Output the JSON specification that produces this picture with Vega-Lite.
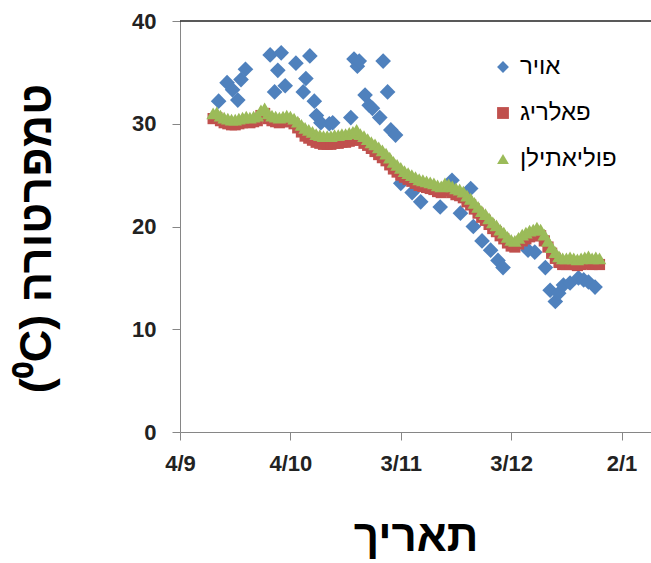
{
  "$schema": "https://vega.github.io/schema/vega-lite/v6.json",
  "width": 471,
  "height": 411,
  "autosize": {"type": "none"},
  "padding": {"left": 180, "top": 21, "right": 0, "bottom": 131},
  "background": "white",
  "config": {"view": {"stroke": null}, "font": "Liberation Sans"},
  "layer": [
    {
      "data": {"values": [
        {"d": "2011-09-14T12:00", "s": "אויר", "t": 32.2},
        {"d": "2011-09-16T19:00", "s": "אויר", "t": 34.0},
        {"d": "2011-09-18T07:00", "s": "אויר", "t": 33.3},
        {"d": "2011-09-19T17:00", "s": "אויר", "t": 32.3},
        {"d": "2011-09-20T14:00", "s": "אויר", "t": 34.3},
        {"d": "2011-09-21T19:00", "s": "אויר", "t": 35.3},
        {"d": "2011-09-28T12:00", "s": "אויר", "t": 36.7},
        {"d": "2011-09-29T17:00", "s": "אויר", "t": 33.1},
        {"d": "2011-09-30T14:00", "s": "אויר", "t": 35.2},
        {"d": "2011-10-01T12:00", "s": "אויר", "t": 36.9},
        {"d": "2011-10-02T14:00", "s": "אויר", "t": 33.7},
        {"d": "2011-10-05T12:00", "s": "אויר", "t": 35.9},
        {"d": "2011-10-07T12:00", "s": "אויר", "t": 33.1},
        {"d": "2011-10-08T05:00", "s": "אויר", "t": 34.4},
        {"d": "2011-10-09T07:00", "s": "אויר", "t": 36.6},
        {"d": "2011-10-10T12:00", "s": "אויר", "t": 32.2},
        {"d": "2011-10-11T02:00", "s": "אויר", "t": 30.8},
        {"d": "2011-10-12T07:00", "s": "אויר", "t": 30.1},
        {"d": "2011-10-14T14:00", "s": "אויר", "t": 30.0},
        {"d": "2011-10-15T12:00", "s": "אויר", "t": 30.1},
        {"d": "2011-10-20T10:00", "s": "אויר", "t": 30.6},
        {"d": "2011-10-21T07:00", "s": "אויר", "t": 36.3},
        {"d": "2011-10-22T05:00", "s": "אויר", "t": 35.6},
        {"d": "2011-10-22T17:00", "s": "אויר", "t": 36.1},
        {"d": "2011-10-24T07:00", "s": "אויר", "t": 32.8},
        {"d": "2011-10-25T10:00", "s": "אויר", "t": 31.8},
        {"d": "2011-10-26T07:00", "s": "אויר", "t": 31.5},
        {"d": "2011-10-28T07:00", "s": "אויר", "t": 30.6},
        {"d": "2011-10-29T05:00", "s": "אויר", "t": 36.1},
        {"d": "2011-10-30T10:00", "s": "אויר", "t": 33.1},
        {"d": "2011-10-31T07:00", "s": "אויר", "t": 29.4},
        {"d": "2011-11-01T14:00", "s": "אויר", "t": 28.9},
        {"d": "2011-11-03T00:00", "s": "אויר", "t": 24.2},
        {"d": "2011-11-06T02:00", "s": "אויר", "t": 23.3},
        {"d": "2011-11-08T10:00", "s": "אויר", "t": 22.4},
        {"d": "2011-11-13T17:00", "s": "אויר", "t": 21.9},
        {"d": "2011-11-16T22:00", "s": "אויר", "t": 24.5},
        {"d": "2011-11-19T05:00", "s": "אויר", "t": 21.3},
        {"d": "2011-11-22T00:00", "s": "אויר", "t": 23.7},
        {"d": "2011-11-22T17:00", "s": "אויר", "t": 20.0},
        {"d": "2011-11-25T02:00", "s": "אויר", "t": 18.6},
        {"d": "2011-11-27T10:00", "s": "אויר", "t": 17.7},
        {"d": "2011-11-29T10:00", "s": "אויר", "t": 16.7},
        {"d": "2011-11-30T19:00", "s": "אויר", "t": 16.0},
        {"d": "2011-12-07T14:00", "s": "אויר", "t": 17.7},
        {"d": "2011-12-09T10:00", "s": "אויר", "t": 17.5},
        {"d": "2011-12-12T07:00", "s": "אויר", "t": 16.0},
        {"d": "2011-12-13T14:00", "s": "אויר", "t": 13.8},
        {"d": "2011-12-15T00:00", "s": "אויר", "t": 12.7},
        {"d": "2011-12-15T22:00", "s": "אויר", "t": 13.5},
        {"d": "2011-12-17T05:00", "s": "אויר", "t": 14.3},
        {"d": "2011-12-19T00:00", "s": "אויר", "t": 14.5},
        {"d": "2011-12-21T07:00", "s": "אויר", "t": 15.0},
        {"d": "2011-12-22T17:00", "s": "אויר", "t": 14.8},
        {"d": "2011-12-24T00:00", "s": "אויר", "t": 14.6},
        {"d": "2011-12-25T19:00", "s": "אויר", "t": 14.1},

        {"d": "2011-09-13T00:00", "s": "פאלריג", "t": 30.5},
        {"d": "2011-09-14T00:00", "s": "פאלריג", "t": 30.6},
        {"d": "2011-09-15T00:00", "s": "פאלריג", "t": 30.3},
        {"d": "2011-09-16T00:00", "s": "פאלריג", "t": 30.1},
        {"d": "2011-09-17T00:00", "s": "פאלריג", "t": 30.0},
        {"d": "2011-09-18T00:00", "s": "פאלריג", "t": 29.9},
        {"d": "2011-09-19T00:00", "s": "פאלריג", "t": 29.9},
        {"d": "2011-09-20T00:00", "s": "פאלריג", "t": 30.0},
        {"d": "2011-09-21T00:00", "s": "פאלריג", "t": 30.1},
        {"d": "2011-09-22T00:00", "s": "פאלריג", "t": 30.2},
        {"d": "2011-09-23T00:00", "s": "פאלריג", "t": 30.1},
        {"d": "2011-09-24T00:00", "s": "פאלריג", "t": 30.2},
        {"d": "2011-09-25T00:00", "s": "פאלריג", "t": 30.3},
        {"d": "2011-09-26T00:00", "s": "פאלריג", "t": 30.8},
        {"d": "2011-09-27T00:00", "s": "פאלריג", "t": 31.0},
        {"d": "2011-09-28T00:00", "s": "פאלריג", "t": 30.5},
        {"d": "2011-09-29T00:00", "s": "פאלריג", "t": 30.3},
        {"d": "2011-09-30T00:00", "s": "פאלריג", "t": 30.2},
        {"d": "2011-10-01T00:00", "s": "פאלריג", "t": 30.1},
        {"d": "2011-10-02T00:00", "s": "פאלריג", "t": 30.2},
        {"d": "2011-10-03T00:00", "s": "פאלריג", "t": 30.3},
        {"d": "2011-10-04T00:00", "s": "פאלריג", "t": 30.2},
        {"d": "2011-10-05T00:00", "s": "פאלריג", "t": 30.0},
        {"d": "2011-10-06T00:00", "s": "פאלריג", "t": 29.6},
        {"d": "2011-10-07T00:00", "s": "פאלריג", "t": 29.2},
        {"d": "2011-10-08T00:00", "s": "פאלריג", "t": 28.8},
        {"d": "2011-10-09T00:00", "s": "פאלריג", "t": 28.6},
        {"d": "2011-10-10T00:00", "s": "פאלריג", "t": 28.4},
        {"d": "2011-10-11T00:00", "s": "פאלריג", "t": 28.2},
        {"d": "2011-10-12T00:00", "s": "פאלריג", "t": 28.1},
        {"d": "2011-10-13T00:00", "s": "פאלריג", "t": 28.0},
        {"d": "2011-10-14T00:00", "s": "פאלריג", "t": 28.0},
        {"d": "2011-10-15T00:00", "s": "פאלריג", "t": 28.0},
        {"d": "2011-10-16T00:00", "s": "פאלריג", "t": 28.1},
        {"d": "2011-10-17T00:00", "s": "פאלריג", "t": 28.1},
        {"d": "2011-10-18T00:00", "s": "פאלריג", "t": 28.2},
        {"d": "2011-10-19T00:00", "s": "פאלריג", "t": 28.2},
        {"d": "2011-10-20T00:00", "s": "פאלריג", "t": 28.3},
        {"d": "2011-10-21T00:00", "s": "פאלריג", "t": 28.4},
        {"d": "2011-10-22T00:00", "s": "פאלריג", "t": 28.6},
        {"d": "2011-10-23T00:00", "s": "פאלריג", "t": 28.4},
        {"d": "2011-10-24T00:00", "s": "פאלריג", "t": 28.1},
        {"d": "2011-10-25T00:00", "s": "פאלריג", "t": 27.9},
        {"d": "2011-10-26T00:00", "s": "פאלריג", "t": 27.6},
        {"d": "2011-10-27T00:00", "s": "פאלריג", "t": 27.3},
        {"d": "2011-10-28T00:00", "s": "פאלריג", "t": 27.0},
        {"d": "2011-10-29T00:00", "s": "פאלריג", "t": 26.7},
        {"d": "2011-10-30T00:00", "s": "פאלריג", "t": 26.4},
        {"d": "2011-10-31T00:00", "s": "פאלריג", "t": 26.0},
        {"d": "2011-11-01T00:00", "s": "פאלריג", "t": 25.6},
        {"d": "2011-11-02T00:00", "s": "פאלריג", "t": 25.3},
        {"d": "2011-11-03T00:00", "s": "פאלריג", "t": 25.0},
        {"d": "2011-11-04T00:00", "s": "פאלריג", "t": 24.8},
        {"d": "2011-11-05T00:00", "s": "פאלריג", "t": 24.6},
        {"d": "2011-11-06T00:00", "s": "פאלריג", "t": 24.4},
        {"d": "2011-11-07T00:00", "s": "פאלריג", "t": 24.2},
        {"d": "2011-11-08T00:00", "s": "פאלריג", "t": 24.0},
        {"d": "2011-11-09T00:00", "s": "פאלריג", "t": 23.9},
        {"d": "2011-11-10T00:00", "s": "פאלריג", "t": 23.8},
        {"d": "2011-11-11T00:00", "s": "פאלריג", "t": 23.7},
        {"d": "2011-11-12T00:00", "s": "פאלריג", "t": 23.6},
        {"d": "2011-11-13T00:00", "s": "פאלריג", "t": 23.4},
        {"d": "2011-11-14T00:00", "s": "פאלריג", "t": 23.3},
        {"d": "2011-11-15T00:00", "s": "פאלריג", "t": 23.6},
        {"d": "2011-11-16T00:00", "s": "פאלריג", "t": 23.5},
        {"d": "2011-11-17T00:00", "s": "פאלריג", "t": 23.3},
        {"d": "2011-11-18T00:00", "s": "פאלריג", "t": 23.1},
        {"d": "2011-11-19T00:00", "s": "פאלריג", "t": 23.0},
        {"d": "2011-11-20T00:00", "s": "פאלריג", "t": 22.8},
        {"d": "2011-11-21T00:00", "s": "פאלריג", "t": 22.4},
        {"d": "2011-11-22T00:00", "s": "פאלריג", "t": 22.1},
        {"d": "2011-11-23T00:00", "s": "פאלריג", "t": 21.7},
        {"d": "2011-11-24T00:00", "s": "פאלריג", "t": 21.3},
        {"d": "2011-11-25T00:00", "s": "פאלריג", "t": 20.9},
        {"d": "2011-11-26T00:00", "s": "פאלריג", "t": 20.6},
        {"d": "2011-11-27T00:00", "s": "פאלריג", "t": 20.2},
        {"d": "2011-11-28T00:00", "s": "פאלריג", "t": 19.8},
        {"d": "2011-11-29T00:00", "s": "פאלריג", "t": 19.5},
        {"d": "2011-11-30T00:00", "s": "פאלריג", "t": 19.1},
        {"d": "2011-12-01T00:00", "s": "פאלריג", "t": 18.8},
        {"d": "2011-12-02T00:00", "s": "פאלריג", "t": 18.4},
        {"d": "2011-12-03T00:00", "s": "פאלריג", "t": 18.1},
        {"d": "2011-12-04T00:00", "s": "פאלריג", "t": 18.0},
        {"d": "2011-12-05T00:00", "s": "פאלריג", "t": 18.3},
        {"d": "2011-12-06T00:00", "s": "פאלריג", "t": 18.6},
        {"d": "2011-12-07T00:00", "s": "פאלריג", "t": 18.8},
        {"d": "2011-12-08T00:00", "s": "פאלריג", "t": 19.0},
        {"d": "2011-12-09T00:00", "s": "פאלריג", "t": 19.1},
        {"d": "2011-12-10T00:00", "s": "פאלריג", "t": 19.3},
        {"d": "2011-12-11T00:00", "s": "פאלריג", "t": 19.1},
        {"d": "2011-12-12T00:00", "s": "פאלריג", "t": 18.6},
        {"d": "2011-12-13T00:00", "s": "פאלריג", "t": 18.0},
        {"d": "2011-12-14T00:00", "s": "פאלריג", "t": 17.4},
        {"d": "2011-12-15T00:00", "s": "פאלריג", "t": 16.9},
        {"d": "2011-12-16T00:00", "s": "פאלריג", "t": 16.5},
        {"d": "2011-12-17T00:00", "s": "פאלריג", "t": 16.3},
        {"d": "2011-12-18T00:00", "s": "פאלריג", "t": 16.3},
        {"d": "2011-12-19T00:00", "s": "פאלריג", "t": 16.4},
        {"d": "2011-12-20T00:00", "s": "פאלריג", "t": 16.3},
        {"d": "2011-12-21T00:00", "s": "פאלריג", "t": 16.2},
        {"d": "2011-12-22T00:00", "s": "פאלריג", "t": 16.3},
        {"d": "2011-12-23T00:00", "s": "פאלריג", "t": 16.4},
        {"d": "2011-12-24T00:00", "s": "פאלריג", "t": 16.5},
        {"d": "2011-12-25T00:00", "s": "פאלריג", "t": 16.3},
        {"d": "2011-12-26T00:00", "s": "פאלריג", "t": 16.4},
        {"d": "2011-12-27T00:00", "s": "פאלריג", "t": 16.3},

        {"d": "2011-09-13T00:00", "s": "פוליאתילן", "t": 31.0},
        {"d": "2011-09-14T00:00", "s": "פוליאתילן", "t": 31.1},
        {"d": "2011-09-15T00:00", "s": "פוליאתילן", "t": 30.8},
        {"d": "2011-09-16T00:00", "s": "פוליאתילן", "t": 30.6},
        {"d": "2011-09-17T00:00", "s": "פוליאתילן", "t": 30.5},
        {"d": "2011-09-18T00:00", "s": "פוליאתילן", "t": 30.4},
        {"d": "2011-09-19T00:00", "s": "פוליאתילן", "t": 30.4},
        {"d": "2011-09-20T00:00", "s": "פוליאתילן", "t": 30.5},
        {"d": "2011-09-21T00:00", "s": "פוליאתילן", "t": 30.6},
        {"d": "2011-09-22T00:00", "s": "פוליאתילן", "t": 30.7},
        {"d": "2011-09-23T00:00", "s": "פוליאתילן", "t": 30.6},
        {"d": "2011-09-24T00:00", "s": "פוליאתילן", "t": 30.7},
        {"d": "2011-09-25T00:00", "s": "פוליאתילן", "t": 30.8},
        {"d": "2011-09-26T00:00", "s": "פוליאתילן", "t": 31.3},
        {"d": "2011-09-27T00:00", "s": "פוליאתילן", "t": 31.5},
        {"d": "2011-09-28T00:00", "s": "פוליאתילן", "t": 31.0},
        {"d": "2011-09-29T00:00", "s": "פוליאתילן", "t": 30.8},
        {"d": "2011-09-30T00:00", "s": "פוליאתילן", "t": 30.7},
        {"d": "2011-10-01T00:00", "s": "פוליאתילן", "t": 30.6},
        {"d": "2011-10-02T00:00", "s": "פוליאתילן", "t": 30.7},
        {"d": "2011-10-03T00:00", "s": "פוליאתילן", "t": 30.8},
        {"d": "2011-10-04T00:00", "s": "פוליאתילן", "t": 30.7},
        {"d": "2011-10-05T00:00", "s": "פוליאתילן", "t": 30.5},
        {"d": "2011-10-06T00:00", "s": "פוליאתילן", "t": 30.2},
        {"d": "2011-10-07T00:00", "s": "פוליאתילן", "t": 29.9},
        {"d": "2011-10-08T00:00", "s": "פוליאתילן", "t": 29.6},
        {"d": "2011-10-09T00:00", "s": "פוליאתילן", "t": 29.4},
        {"d": "2011-10-10T00:00", "s": "פוליאתילן", "t": 29.2},
        {"d": "2011-10-11T00:00", "s": "פוליאתילן", "t": 29.0},
        {"d": "2011-10-12T00:00", "s": "פוליאתילן", "t": 28.9},
        {"d": "2011-10-13T00:00", "s": "פוליאתילן", "t": 28.8},
        {"d": "2011-10-14T00:00", "s": "פוליאתילן", "t": 28.8},
        {"d": "2011-10-15T00:00", "s": "פוליאתילן", "t": 28.8},
        {"d": "2011-10-16T00:00", "s": "פוליאתילן", "t": 28.9},
        {"d": "2011-10-17T00:00", "s": "פוליאתילן", "t": 28.9},
        {"d": "2011-10-18T00:00", "s": "פוליאתילן", "t": 29.0},
        {"d": "2011-10-19T00:00", "s": "פוליאתילן", "t": 29.0},
        {"d": "2011-10-20T00:00", "s": "פוליאתילן", "t": 29.1},
        {"d": "2011-10-21T00:00", "s": "פוליאתילן", "t": 29.2},
        {"d": "2011-10-22T00:00", "s": "פוליאתילן", "t": 29.4},
        {"d": "2011-10-23T00:00", "s": "פוליאתילן", "t": 29.0},
        {"d": "2011-10-24T00:00", "s": "פוליאתילן", "t": 28.8},
        {"d": "2011-10-25T00:00", "s": "פוליאתילן", "t": 28.5},
        {"d": "2011-10-26T00:00", "s": "פוליאתילן", "t": 28.2},
        {"d": "2011-10-27T00:00", "s": "פוליאתילן", "t": 28.0},
        {"d": "2011-10-28T00:00", "s": "פוליאתילן", "t": 27.7},
        {"d": "2011-10-29T00:00", "s": "פוליאתילן", "t": 27.4},
        {"d": "2011-10-30T00:00", "s": "פוליאתילן", "t": 27.1},
        {"d": "2011-10-31T00:00", "s": "פוליאתילן", "t": 26.7},
        {"d": "2011-11-01T00:00", "s": "פוליאתילן", "t": 26.3},
        {"d": "2011-11-02T00:00", "s": "פוליאתילן", "t": 26.0},
        {"d": "2011-11-03T00:00", "s": "פוליאתילן", "t": 25.7},
        {"d": "2011-11-04T00:00", "s": "פוליאתילן", "t": 25.4},
        {"d": "2011-11-05T00:00", "s": "פוליאתילן", "t": 25.2},
        {"d": "2011-11-06T00:00", "s": "פוליאתילן", "t": 25.0},
        {"d": "2011-11-07T00:00", "s": "פוליאתילן", "t": 24.8},
        {"d": "2011-11-08T00:00", "s": "פוליאתילן", "t": 24.6},
        {"d": "2011-11-09T00:00", "s": "פוליאתילן", "t": 24.5},
        {"d": "2011-11-10T00:00", "s": "פוליאתילן", "t": 24.4},
        {"d": "2011-11-11T00:00", "s": "פוליאתילן", "t": 24.3},
        {"d": "2011-11-12T00:00", "s": "פוליאתילן", "t": 24.2},
        {"d": "2011-11-13T00:00", "s": "פוליאתילן", "t": 24.0},
        {"d": "2011-11-14T00:00", "s": "פוליאתילן", "t": 23.9},
        {"d": "2011-11-15T00:00", "s": "פוליאתילן", "t": 24.2},
        {"d": "2011-11-16T00:00", "s": "פוליאתילן", "t": 24.1},
        {"d": "2011-11-17T00:00", "s": "פוליאתילן", "t": 23.9},
        {"d": "2011-11-18T00:00", "s": "פוליאתילן", "t": 23.7},
        {"d": "2011-11-19T00:00", "s": "פוליאתילן", "t": 23.6},
        {"d": "2011-11-20T00:00", "s": "פוליאתילן", "t": 23.4},
        {"d": "2011-11-21T00:00", "s": "פוליאתילן", "t": 23.0},
        {"d": "2011-11-22T00:00", "s": "פוליאתילן", "t": 22.7},
        {"d": "2011-11-23T00:00", "s": "פוליאתילן", "t": 22.3},
        {"d": "2011-11-24T00:00", "s": "פוליאתילן", "t": 21.9},
        {"d": "2011-11-25T00:00", "s": "פוליאתילן", "t": 21.5},
        {"d": "2011-11-26T00:00", "s": "פוליאתילן", "t": 21.2},
        {"d": "2011-11-27T00:00", "s": "פוליאתילן", "t": 20.8},
        {"d": "2011-11-28T00:00", "s": "פוליאתילן", "t": 20.4},
        {"d": "2011-11-29T00:00", "s": "פוליאתילן", "t": 20.1},
        {"d": "2011-11-30T00:00", "s": "פוליאתילן", "t": 19.7},
        {"d": "2011-12-01T00:00", "s": "פוליאתילן", "t": 19.4},
        {"d": "2011-12-02T00:00", "s": "פוליאתילן", "t": 19.0},
        {"d": "2011-12-03T00:00", "s": "פוליאתילן", "t": 18.7},
        {"d": "2011-12-04T00:00", "s": "פוליאתילן", "t": 18.6},
        {"d": "2011-12-05T00:00", "s": "פוליאתילן", "t": 18.9},
        {"d": "2011-12-06T00:00", "s": "פוליאתילן", "t": 19.2},
        {"d": "2011-12-07T00:00", "s": "פוליאתילן", "t": 19.4},
        {"d": "2011-12-08T00:00", "s": "פוליאתילן", "t": 19.6},
        {"d": "2011-12-09T00:00", "s": "פוליאתילן", "t": 19.7},
        {"d": "2011-12-10T00:00", "s": "פוליאתילן", "t": 19.9},
        {"d": "2011-12-11T00:00", "s": "פוליאתילן", "t": 19.7},
        {"d": "2011-12-12T00:00", "s": "פוליאתילן", "t": 19.2},
        {"d": "2011-12-13T00:00", "s": "פוליאתילן", "t": 18.6},
        {"d": "2011-12-14T00:00", "s": "פוליאתילן", "t": 18.0},
        {"d": "2011-12-15T00:00", "s": "פוליאתילן", "t": 17.5},
        {"d": "2011-12-16T00:00", "s": "פוליאתילן", "t": 17.1},
        {"d": "2011-12-17T00:00", "s": "פוליאתילן", "t": 16.9},
        {"d": "2011-12-18T00:00", "s": "פוליאתילן", "t": 16.9},
        {"d": "2011-12-19T00:00", "s": "פוליאתילן", "t": 17.0},
        {"d": "2011-12-20T00:00", "s": "פוליאתילן", "t": 16.9},
        {"d": "2011-12-21T00:00", "s": "פוליאתילן", "t": 16.8},
        {"d": "2011-12-22T00:00", "s": "פוליאתילן", "t": 16.9},
        {"d": "2011-12-23T00:00", "s": "פוליאתילן", "t": 17.0},
        {"d": "2011-12-24T00:00", "s": "פוליאתילן", "t": 17.1},
        {"d": "2011-12-25T00:00", "s": "פוליאתילן", "t": 16.9},
        {"d": "2011-12-26T00:00", "s": "פוליאתילן", "t": 17.0},
        {"d": "2011-12-27T00:00", "s": "פוליאתילן", "t": 16.9}
      ]},
      "mark": {"type": "point", "filled": true, "opacity": 1},
      "encoding": {
        "x": {
          "field": "d", "type": "temporal",
          "scale": {"domain": [{"year": 2011, "month": 9, "date": 4}, {"year": 2012, "month": 1, "date": 10}]},
          "axis": {
            "values": [
              {"year": 2011, "month": 9, "date": 4},
              {"year": 2011, "month": 10, "date": 4},
              {"year": 2011, "month": 11, "date": 3},
              {"year": 2011, "month": 12, "date": 3},
              {"year": 2012, "month": 1, "date": 2}
            ],
            "format": "%-d/%-m",
            "title": "תאריך",
            "grid": false,
            "domainColor": "#868686",
            "tickColor": "#868686",
            "tickSize": 8,
            "labelFontSize": 22,
            "labelFontWeight": "bold",
            "labelColor": "#222222",
            "labelPadding": 13,
            "labelFlush": false,
            "labelOverlap": false,
            "titleFontSize": 44,
            "titleFontWeight": "bold",
            "titleColor": "#000000",
            "titleY": 118,
            "titleBaseline": "alphabetic"
          }
        },
        "y": {
          "field": "t", "type": "quantitative",
          "scale": {"domain": [0, 40]},
          "axis": {
            "values": [0, 10, 20, 30, 40],
            "title": "(⁰C) טמפרטורה",
            "grid": false,
            "domainColor": "#868686",
            "tickColor": "#868686",
            "tickSize": 8,
            "labelFontSize": 22,
            "labelFontWeight": "bold",
            "labelColor": "#222222",
            "labelPadding": 16,
            "titleFontSize": 45,
            "titleFontWeight": "bold",
            "titleColor": "#000000",
            "titleX": -130,
            "titleY": 217,
            "titleBaseline": "alphabetic"
          }
        },
        "color": {
          "field": "s", "type": "nominal",
          "scale": {"domain": ["אויר", "פאלריג", "פוליאתילן"], "range": ["#4F81BD", "#C0504D", "#9BBB59"]},
          "legend": {
            "orient": "none", "legendX": 311, "legendY": 34,
            "title": null,
            "labelFontSize": 24,
            "labelColor": "#000000",
            "symbolSize": 140,
            "rowPadding": 22,
            "labelOffset": 5,
            "symbolStrokeWidth": 0
          }
        },
        "shape": {
          "field": "s", "type": "nominal",
          "scale": {"domain": ["אויר", "פאלריג", "פוליאתילן"], "range": ["diamond", "square", "triangle-up"]}
        },
        "size": {
          "field": "s", "type": "ordinal",
          "scale": {"domain": ["פאלריג", "פוליאתילן", "אויר"], "range": [125, 245]},
          "legend": null
        }
      }
    },
    {
      "data": {"values": [{}]},
      "mark": {"type": "rule", "color": "#222222", "strokeWidth": 1.5},
      "encoding": {"y": {"datum": 40, "type": "quantitative"}}
    }
  ]
}
